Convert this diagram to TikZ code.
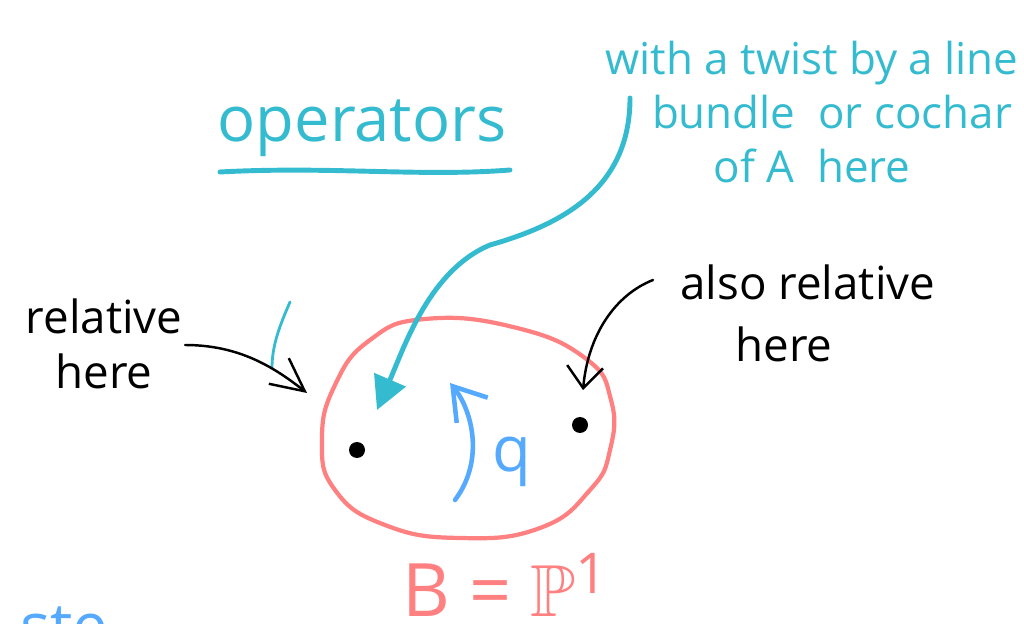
\documentclass[tikz,border=0pt]{standalone}
\usepackage{amssymb}
\usepackage{fontspec}
\setmainfont{Open Sans}
\usetikzlibrary{arrows.meta,positioning}

\definecolor{handteal}{HTML}{35BBCF}
\definecolor{blobred}{HTML}{FF8080}
\definecolor{qblue}{HTML}{55AAFF}

\begin{document}
\begin{tikzpicture}[
    x=0.02cm, y=-0.02cm,
    tealtext/.style={text=handteal, inner sep=0pt},
    blacktext/.style={text=black, inner sep=0pt},
    tealline/.style={draw=handteal, line width=2.8pt, line cap=round},
    tealarrow/.style={tealline, -{Triangle[length=0.66cm, width=0.67cm]}},
    blackarrow/.style={draw=black, line width=1.4pt, line cap=round},
    blob/.style={draw=blobred, line width=2.4pt},
    qarrow/.style={draw=qblue, line width=2.6pt, line cap=round, -{Straight Barb[length=0.62cm, width=0.8cm]}},
    dot/.style={circle, fill=black, inner sep=0pt, minimum size=0.32cm}
]
    \useasboundingbox (0,0) rectangle (1024,624);
    \clip (0,0) rectangle (1024,624);

    % title and its underline
    \node[tealtext, font=\fontsize{36}{40}\selectfont] (ops) at (362,128) {operators};
    \draw[tealline] (220,172) .. controls (330,166) and (420,177) .. (510,170);

    \node[tealtext, align=center, font=\fontsize{25}{31}\selectfont] (twist) at (812,112)
        {with a twist by a line\\\hspace*{0.8cm}bundle\ \ or cochar\\of A\ \ here};

    \node[blacktext, align=center, font=\fontsize{26}{31}\selectfont] (rel) at (104,344) {relative\\here};
    \node[blacktext, anchor=base west, font=\fontsize{26}{31}\selectfont] (also) at (680,300) {also relative};
    \node[blacktext, anchor=base west, font=\fontsize{26}{31}\selectfont] (alsohere) at (735,362) {here};

    % the base curve
    \draw[blob] plot[smooth cycle, tension=0.8] coordinates {(425,319) (513,327) (585,358) (611,400)
        (610,450) (590,490) (540,528) (460,538) (385,525) (335,490) (322,440) (335,385) (370,340)};

    \node[dot] (leftpt) at (357,450) {};
    \node[dot] (rightpt) at (580,425) {};

    \coordinate (twiststart) at (630,98);
    \coordinate (twisttip) at (377,410);
    \coordinate (relstart) at (185,345);
    \coordinate (reltip) at (307,393);
    \coordinate (alsostart) at (653,280);
    \coordinate (alsotip) at (583,390);
    \coordinate (qstart) at (455,500);
    \coordinate (qtip) at (450,383);

    \draw[tealarrow] (twiststart) .. controls (630,190) and (560,225) .. (490,245)
        .. controls (430,270) and (405,345) .. (twisttip);
    \draw[tealline, line width=1.6pt] (290,302) .. controls (280,325) and (272,345) .. (272,368);

    \draw[blackarrow, -{Straight Barb[length=0.66cm, width=0.65cm]}] (relstart) .. controls (240,345) and (275,368) .. (reltip);
    \draw[blackarrow, -{Straight Barb[length=0.43cm, width=0.72cm]}] (alsostart) .. controls (615,295) and (588,335) .. (alsotip);

    \draw[qarrow] (qstart) .. controls (485,460) and (472,410) .. (qtip);
    \node[text=qblue, inner sep=0pt, font=\fontsize{36}{38}\selectfont] (q) at (512,462) {q};

    \node[text=blobred, inner sep=0pt, anchor=base, font=\fontsize{42}{46}\selectfont] (base) at (505,616)
        {B = $\mathbb{P}$\raisebox{0.3em}{\fontsize{32}{34}\selectfont 1}};

    \node[text=qblue, inner sep=0pt, anchor=base west, font=\fontsize{36}{40}\selectfont] (ste) at (20,648) {ste};
\end{tikzpicture}
\end{document}
